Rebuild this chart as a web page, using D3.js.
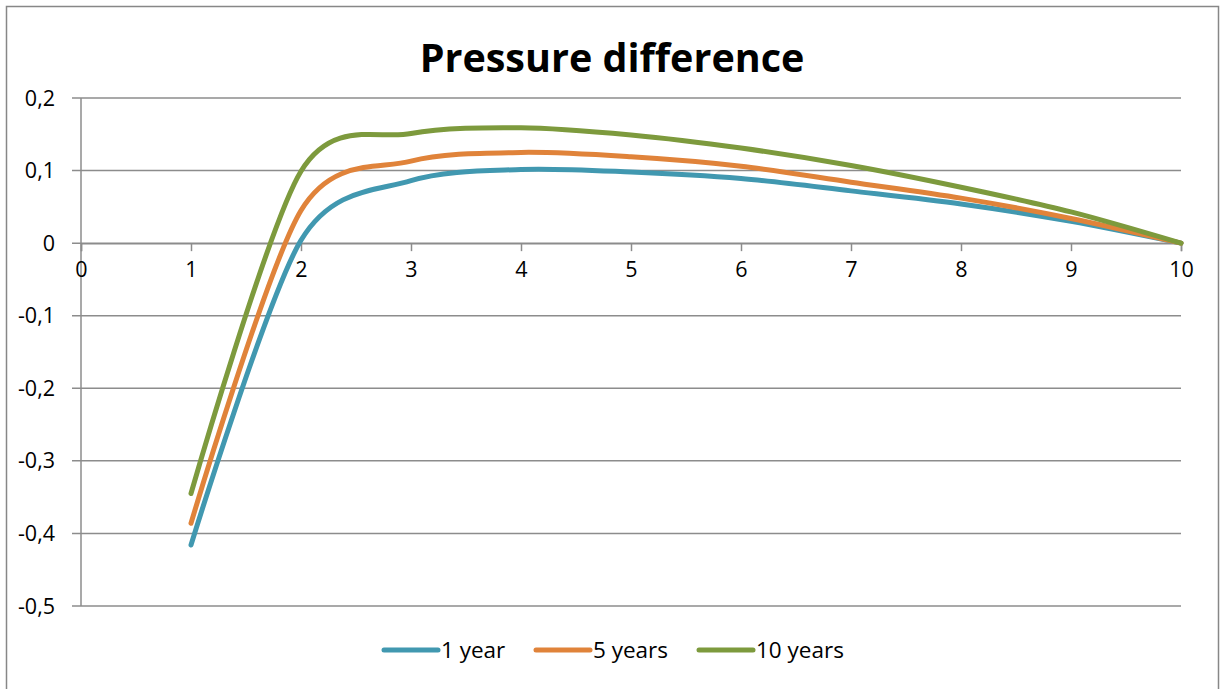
<!DOCTYPE html>
<html><head><meta charset="utf-8">
<script src="https://cdn.jsdelivr.net/npm/d3@7"></script>
<style>
html,body{margin:0;padding:0;background:#fff;}
svg{display:block;font-family:"Open Sans","Liberation Sans",sans-serif;}
</style></head>
<body>
<svg id="chart" width="1225" height="689"></svg>
<script>
const xValues = [1, 2, 3, 4, 5, 6, 7, 8, 9, 10];
const series1Year = [-0.416, 0.004, 0.086, 0.1015, 0.098, 0.089, 0.072, 0.054, 0.030, 0];
const series5Years = [-0.386, 0.045, 0.113, 0.125, 0.119, 0.106, 0.084, 0.062, 0.034, 0];
const series10Years = [-0.345, 0.099, 0.151, 0.159, 0.149, 0.131, 0.107, 0.077, 0.043, 0];
const seriesNames = ["1 year", "5 years", "10 years"];
const seriesColors = ["#4198B0", "#E0833A", "#7D9A3D"];
const xTicks = [0,1,2,3,4,5,6,7,8,9,10];
const yTicks = [0.2,0.1,0,-0.1,-0.2,-0.3,-0.4,-0.5];
const chartTitle = "Pressure difference";

(function(){
const svg = d3.select("#chart");
const mLeft = 81, mRight = 1181, mTop = 98, mBottom = 606;

svg.append("rect").attr("x",6.5).attr("y",6.5).attr("width",1212).attr("height",700)
  .attr("fill","#fff").attr("stroke","#878787").attr("stroke-width",1.5);

const x = d3.scaleLinear().domain([0,10]).range([mLeft,mRight]);
const y = d3.scaleLinear().domain([-0.5,0.2]).range([mBottom,mTop]);
const gridColor = "#8c8c8c";

svg.append("g").selectAll("line").data(yTicks).join("line")
  .attr("x1",mLeft-9).attr("x2",mRight)
  .attr("y1",d=>y(d)).attr("y2",d=>y(d))
  .attr("stroke",gridColor).attr("stroke-width",1.5);

svg.append("line").attr("x1",mLeft).attr("x2",mLeft).attr("y1",mTop).attr("y2",mBottom)
  .attr("stroke",gridColor).attr("stroke-width",1.5);

svg.append("g").selectAll("text").data(yTicks).join("text")
  .attr("x",55).attr("y",d=>y(d)).attr("dy","0.35em")
  .attr("text-anchor","end").attr("font-size",21.5).attr("fill","#000")
  .text(d=> Math.abs(d) < 1e-9 ? "0" : d3.format(".1f")(d).replace(".",",").replace("−","-"));

const xAxis = d3.axisBottom(x).tickValues(xTicks).tickSize(8).tickFormat(d=>String(d));
const gx = svg.append("g").attr("transform",`translate(0,${y(0)})`).call(xAxis);
gx.select(".domain").attr("stroke",gridColor).attr("stroke-width",1.5);
gx.selectAll(".tick line").attr("stroke",gridColor).attr("stroke-width",1.5);
gx.selectAll(".tick text").attr("font-size",21.5).attr("fill","#000")
  .attr("font-family","'Open Sans','Liberation Sans',sans-serif").attr("y",26).attr("dy","0.35em");

const allSeries = [series1Year, series5Years, series10Years];
const line = d3.line().x((d,i)=>x(xValues[i])).y(d=>y(d)).curve(d3.curveCardinal.tension(0.12));
svg.append("g").selectAll("path").data(allSeries).join("path")
  .attr("d",d=>line(d)).attr("fill","none")
  .attr("stroke",(d,i)=>seriesColors[i]).attr("stroke-width",5)
  .attr("stroke-linecap","round").attr("stroke-linejoin","round");

svg.append("text").attr("x",612).attr("y",72).attr("text-anchor","middle")
  .attr("font-size",39.5).attr("font-weight","bold").attr("fill","#000").text(chartTitle);

const legendX = [384, 536, 699];
const lg = svg.append("g");
seriesNames.forEach((n,i)=>{
  lg.append("line").attr("x1",legendX[i]).attr("x2",legendX[i]+54).attr("y1",650).attr("y2",650)
    .attr("stroke",seriesColors[i]).attr("stroke-width",5).attr("stroke-linecap","round");
  lg.append("text").attr("x",legendX[i]+57).attr("y",650).attr("dy","0.35em")
    .attr("font-size",22.5).attr("fill","#000").text(n);
});
})();
</script>
</body></html>
